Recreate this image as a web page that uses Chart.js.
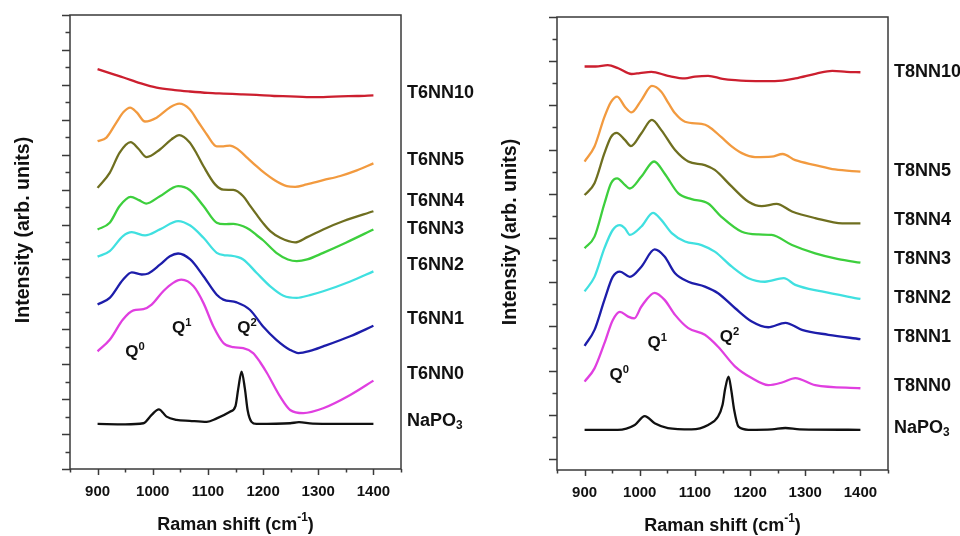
<!DOCTYPE html>
<html>
<head>
<meta charset="utf-8">
<title>Raman spectra – T6NN / T8NN glasses</title>
<script src="https://cdn.jsdelivr.net/npm/chart.js@4.4.1/dist/chart.umd.min.js"></script>
<style>
  html, body { margin: 0; padding: 0; background: #fff; }
  #wrap { position: relative; width: 960px; height: 536px; }
  .panel { position: absolute; top: 0; width: 480px; height: 536px; }
</style>
</head>
<body>
<div id="wrap">
  <div class="panel" style="left:0"><canvas id="chart-t6" width="480" height="536"></canvas></div>
  <div class="panel" style="left:480px"><canvas id="chart-t8" width="480" height="536"></canvas></div>
</div>
<script>
// Espectros Raman (desplazados verticalmente), [numero de onda cm-1, intensidad]
const xTicks = [900, 1000, 1100, 1200, 1300, 1400];
const colores = ['#cc1f2f', '#f29a3f', '#6f6f20', '#3dcf3d', '#40e0e0', '#1d1daa', '#e03fe0', '#111111'];

// Serie T6
const t6Nombres = ['T6NN10', 'T6NN5', 'T6NN4', 'T6NN3', 'T6NN2', 'T6NN1', 'T6NN0', 'NaPO_3'];
const T6NN10 = [[900,11.45],[925,11.32],[947,11.21],[977,11.05],[1007,10.92],[1040,10.85],[1067,10.81],[1100,10.77],[1128,10.75],[1160,10.73],[1188,10.71],[1220,10.68],[1249,10.67],[1279,10.65],[1309,10.65],[1340,10.67],[1370,10.68],[1400,10.70]];
const T6NN5 = [[900,9.39],[916,9.49],[934,9.92],[947,10.22],[959,10.35],[971,10.21],[986,9.95],[1007,10.06],[1031,10.35],[1048,10.46],[1067,10.30],[1082,9.95],[1098,9.58],[1116,9.24],[1128,9.24],[1140,9.26],[1152,9.18],[1172,8.90],[1188,8.67],[1203,8.47],[1219,8.29],[1243,8.10],[1258,8.08],[1279,8.15],[1309,8.27],[1340,8.39],[1370,8.55],[1400,8.75]];
const T6NN4 = [[900,8.05],[922,8.48],[940,9.06],[960,9.36],[974,9.17],[989,8.93],[1013,9.15],[1034,9.44],[1048,9.56],[1067,9.35],[1080,9.02],[1092,8.67],[1113,8.15],[1128,8.00],[1146,7.99],[1164,7.81],[1176,7.55],[1188,7.29],[1200,7.04],[1213,6.81],[1231,6.62],[1258,6.49],[1280,6.64],[1309,6.86],[1346,7.10],[1400,7.38]];
const T6NN3 = [[900,6.86],[922,7.05],[940,7.53],[960,7.79],[975,7.70],[988,7.60],[1013,7.81],[1046,8.10],[1067,7.99],[1092,7.53],[1116,7.05],[1130,7.01],[1146,7.02],[1164,6.95],[1176,6.85],[1188,6.70],[1200,6.55],[1224,6.19],[1245,6.00],[1261,5.95],[1280,6.00],[1309,6.19],[1350,6.48],[1400,6.86]];
const T6NN2 = [[900,6.08],[922,6.24],[946,6.67],[962,6.78],[986,6.69],[1013,6.86],[1046,7.10],[1068,6.97],[1092,6.62],[1116,6.19],[1130,6.12],[1140,6.11],[1164,6.00],[1188,5.62],[1213,5.23],[1237,4.96],[1261,4.90],[1285,4.98],[1309,5.09],[1358,5.37],[1400,5.66]];
const T6NN1 = [[900,4.71],[922,4.90],[946,5.42],[962,5.63],[980,5.57],[992,5.60],[1013,5.85],[1031,6.09],[1046,6.17],[1068,6.00],[1092,5.52],[1116,4.99],[1128,4.85],[1152,4.77],[1176,4.56],[1200,4.08],[1224,3.70],[1249,3.41],[1264,3.32],[1285,3.38],[1309,3.51],[1358,3.80],[1400,4.10]];
const T6NN0 = [[900,3.37],[922,3.70],[946,4.28],[965,4.54],[983,4.58],[998,4.71],[1019,5.09],[1037,5.33],[1052,5.42],[1074,5.23],[1092,4.75],[1110,4.08],[1128,3.61],[1146,3.49],[1164,3.46],[1182,3.32],[1195,3.05],[1207,2.75],[1231,2.07],[1249,1.69],[1273,1.60],[1309,1.74],[1358,2.12],[1400,2.53]];
const NaPO3_t6 = [[900,1.29],[950,1.28],[983,1.31],[998,1.55],[1011,1.71],[1025,1.50],[1043,1.41],[1067,1.38],[1098,1.35],[1116,1.45],[1140,1.64],[1150,1.80],[1155,2.30],[1161,2.79],[1167,2.30],[1172,1.68],[1179,1.35],[1188,1.29],[1249,1.31],[1265,1.34],[1290,1.30],[1400,1.29]];
const t6Etiquetas = [10.76, 8.84, 7.66, 6.86, 5.85, 4.30, 2.73, 1.38];

// Serie T8
const t8Nombres = ['T8NN10', 'T8NN5', 'T8NN4', 'T8NN3', 'T8NN2', 'T8NN1', 'T8NN0', 'NaPO_3'];
const T8NN10 = [[900,8.88],[920,8.88],[942,8.91],[961,8.84],[985,8.71],[1000,8.73],[1021,8.76],[1051,8.67],[1082,8.61],[1100,8.65],[1124,8.67],[1150,8.60],[1173,8.57],[1210,8.55],[1245,8.55],[1282,8.61],[1320,8.72],[1349,8.78],[1375,8.76],[1400,8.75]];
const T8NN5 = [[900,6.73],[918,7.07],[936,7.74],[948,8.08],[959,8.20],[973,7.97],[985,7.84],[1003,8.12],[1022,8.44],[1039,8.31],[1052,8.05],[1064,7.82],[1082,7.63],[1112,7.58],[1124,7.53],[1148,7.28],[1166,7.08],[1185,6.92],[1209,6.83],[1239,6.84],[1259,6.90],[1282,6.76],[1318,6.65],[1354,6.55],[1400,6.50]];
const T8NN4 = [[900,5.97],[918,6.24],[936,6.92],[948,7.29],[958,7.38],[973,7.22],[984,7.08],[1003,7.37],[1022,7.67],[1039,7.44],[1064,6.99],[1088,6.73],[1118,6.65],[1136,6.54],[1167,6.16],[1197,5.82],[1221,5.72],[1248,5.77],[1276,5.60],[1318,5.45],[1367,5.33],[1400,5.33]];
const T8NN3 = [[900,4.77],[918,5.03],[936,5.78],[948,6.24],[959,6.35],[973,6.20],[982,6.12],[1003,6.39],[1026,6.73],[1045,6.46],[1070,6.01],[1094,5.88],[1124,5.78],[1148,5.48],[1185,5.14],[1215,5.08],[1239,5.07],[1276,4.84],[1318,4.65],[1360,4.52],[1400,4.44]];
const T8NN2 = [[900,3.79],[918,4.12],[936,4.77],[951,5.18],[964,5.29],[973,5.22],[982,5.07],[1003,5.26],[1024,5.57],[1039,5.41],[1058,5.11],[1082,4.92],[1112,4.84],[1136,4.69],[1167,4.35],[1197,4.09],[1227,4.01],[1261,4.09],[1282,3.94],[1330,3.79],[1400,3.62]];
const T8NN1 = [[900,2.56],[918,2.92],[936,3.60],[951,4.12],[964,4.24],[982,4.12],[1003,4.35],[1027,4.74],[1045,4.58],[1064,4.20],[1088,4.01],[1118,3.90],[1142,3.75],[1173,3.41],[1203,3.11],[1233,2.98],[1264,3.08],[1294,2.92],[1342,2.81],[1400,2.71]];
const T8NN0 = [[900,1.75],[918,2.05],[936,2.62],[951,3.14],[964,3.33],[979,3.22],[990,3.18],[1003,3.45],[1027,3.76],[1045,3.60],[1064,3.26],[1088,2.96],[1118,2.81],[1142,2.54],[1173,2.09],[1203,1.83],[1233,1.67],[1258,1.73],[1282,1.83],[1318,1.67],[1400,1.60]];
const NaPO3_t8 = [[900,0.66],[960,0.66],[991,0.77],[1009,0.97],[1027,0.81],[1051,0.70],[1094,0.67],[1124,0.77],[1142,0.96],[1150,1.22],[1155,1.60],[1161,1.86],[1166,1.55],[1171,1.12],[1179,0.73],[1197,0.66],[1240,0.67],[1264,0.70],[1290,0.67],[1400,0.66]];
const t8Etiquetas = [8.76, 6.52, 5.41, 4.52, 3.64, 2.76, 1.65, 0.70];

const FUENTE = "'Liberation Sans', Arial, sans-serif";

// Texto con sub/superindices: '^1' superindice, '_3' subindice
function partes(txt) {
  return txt.split(/(?=[_^])/).map(p => {
    if (p[0] === '^') return { t: p[1], mod: 'sup', resto: p.slice(2) };
    if (p[0] === '_') return { t: p[1], mod: 'sub', resto: p.slice(2) };
    return { t: p, mod: null, resto: '' };
  }).flatMap(p => p.resto ? [{ t: p.t, mod: p.mod }, { t: p.resto, mod: null }] : [{ t: p.t, mod: p.mod }]);
}
function textoRico(ctx, txt, x, y, size, align) {
  const ps = partes(txt);
  const medir = p => {
    const fs = p.mod ? size * 0.66 : size;
    ctx.font = 'bold ' + fs + 'px ' + FUENTE;
    return ctx.measureText(p.t).width;
  };
  const ancho = ps.reduce((s, p) => s + medir(p), 0);
  let cx = align === 'center' ? x - ancho / 2 : x;
  ps.forEach(p => {
    const w = medir(p);
    let dy = 0;
    if (p.mod === 'sup') dy = -size * 0.42;
    if (p.mod === 'sub') dy = size * 0.28;
    ctx.fillText(p.t, cx, y + dy);
    cx += w;
  });
}

// Marco, marcas de ejes y rotulos
const decorado = {
  id: 'decorado',
  afterDraw(chart, args, o) {
    const { ctx, chartArea: a, scales: { x, y } } = chart;
    ctx.save();
    ctx.strokeStyle = '#3a3a3a';
    ctx.lineWidth = 1.5;
    ctx.strokeRect(a.left, a.top, a.right - a.left, a.bottom - a.top);

    ctx.beginPath();
    for (let v = Math.ceil(y.min * 2) / 2; v <= y.max + 1e-6; v += 0.5) {
      const py = Math.round(y.getPixelForValue(v)) + 0.5;
      const largo = Number.isInteger(v) ? 8 : 4.5;
      ctx.moveTo(a.left, py);
      ctx.lineTo(a.left - largo, py);
    }
    for (let v = 850; v <= 1450; v += 50) {
      const px = Math.round(x.getPixelForValue(v)) + 0.5;
      const largo = v % 100 === 0 ? 6 : 3.5;
      ctx.moveTo(px, a.bottom);
      ctx.lineTo(px, a.bottom + largo);
    }
    ctx.stroke();

    ctx.fillStyle = '#111';
    ctx.textBaseline = 'middle';
    ctx.textAlign = 'left';
    o.nombres.forEach((n, i) => {
      textoRico(ctx, n, a.right + 6, y.getPixelForValue(o.posiciones[i]), 18, 'left');
    });

    ctx.textBaseline = 'alphabetic';
    o.bandas.forEach(b => {
      textoRico(ctx, b.txt, x.getPixelForValue(b.x), y.getPixelForValue(b.y), 17, 'left');
    });

    ctx.textBaseline = 'middle';
    textoRico(ctx, 'Raman shift (cm^-^1)', (a.left + a.right) / 2, a.bottom + 56, 18, 'center');
    ctx.translate(a.left - 46, o.tituloY);
    ctx.rotate(-Math.PI / 2);
    textoRico(ctx, 'Intensity (arb. units)', 0, 0, 19.5, 'center');
    ctx.restore();
  }
};

function crearPanel(id, series, nombres, posiciones, bandas, eje) {
  const datasets = series.map((s, i) => ({
    label: nombres[i].replace('_', ''),
    data: s.map(([x, y]) => ({ x, y })),
    borderColor: colores[i],
    borderWidth: 2.3,
    pointRadius: 0,
    cubicInterpolationMode: 'monotone',
    fill: false
  }));
  return new Chart(document.getElementById(id), {
    type: 'line',
    data: { datasets },
    options: {
      responsive: false,
      animation: false,
      events: [],
      layout: { padding: { top: eje.top, right: eje.right, left: 0, bottom: 0 } },
      plugins: {
        legend: { display: false },
        tooltip: { enabled: false },
        decorado: { nombres, posiciones, bandas, tituloY: eje.tituloY }
      },
      scales: {
        x: {
          type: 'linear',
          min: 850,
          max: 1450,
          afterBuildTicks: s => { s.ticks = xTicks.map(v => ({ value: v })); },
          afterFit: s => { s.height = eje.bottom; },
          grid: { display: false, drawTicks: false },
          border: { display: false },
          ticks: {
            autoSkip: false,
            maxRotation: 0,
            padding: 14,
            color: '#111',
            font: { family: FUENTE, size: 15, weight: 'bold' },
            callback: v => String(v)
          }
        },
        y: {
          type: 'linear',
          min: eje.min,
          max: eje.max,
          afterFit: s => { s.width = eje.left; },
          grid: { display: false, drawTicks: false },
          border: { display: false },
          ticks: { display: false }
        }
      }
    },
    plugins: [decorado]
  });
}

crearPanel('chart-t6',
  [T6NN10, T6NN5, T6NN4, T6NN3, T6NN2, T6NN1, T6NN0, NaPO3_t6],
  t6Nombres, t6Etiquetas,
  [{ txt: 'Q^0', x: 950, y: 3.21 }, { txt: 'Q^1', x: 1035, y: 3.90 }, { txt: 'Q^2', x: 1153, y: 3.90 }],
  { min: 0, max: 13, top: 15, right: 79, left: 70, bottom: 67, tituloY: 230 });

crearPanel('chart-t8',
  [T8NN10, T8NN5, T8NN4, T8NN3, T8NN2, T8NN1, T8NN0, NaPO3_t8],
  t8Nombres, t8Etiquetas,
  [{ txt: 'Q^0', x: 945, y: 1.79 }, { txt: 'Q^1', x: 1014, y: 2.51 }, { txt: 'Q^2', x: 1145, y: 2.65 }],
  { min: -0.25, max: 10, top: 17, right: 72, left: 77, bottom: 66, tituloY: 232 });
</script>
</body>
</html>
